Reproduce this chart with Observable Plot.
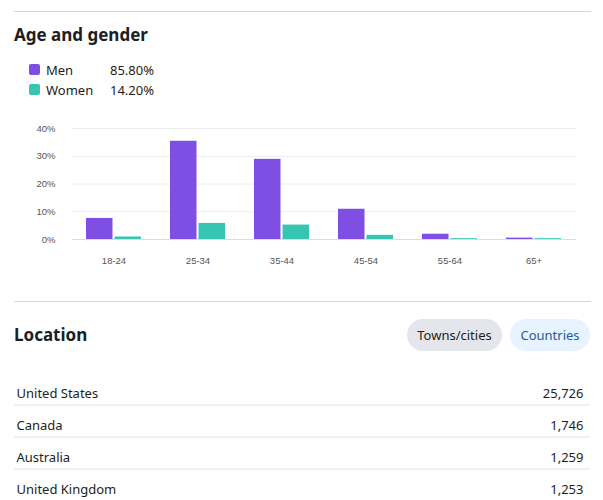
<!DOCTYPE html>
<html>
<head>
<meta charset="utf-8">
<script src="https://cdn.jsdelivr.net/npm/d3@7"></script>
<script src="https://cdn.jsdelivr.net/npm/@observablehq/plot@0.6"></script>
<style>
  html, body { margin: 0; padding: 0; background: #fff; }
  body { width: 603px; height: 500px; position: relative; overflow: hidden; font-family: "Noto Sans", sans-serif; color: #1c1e21; }
  .hr { position: absolute; left: 14px; width: 577px; height: 1px; background: #d6d6d6; }
  .h { position: absolute; left: 14px; font-weight: 700; font-size: 17px; line-height: 20px; }
  .leg { position: absolute; left: 29px; font-size: 13px; line-height: 16px; }
  .leg .sw { position: absolute; left: 0; top: 2px; width: 11px; height: 11px; border-radius: 2px; }
  .leg .lab { position: absolute; left: 17px; top: 0; white-space: nowrap; }
  .leg .val { position: absolute; left: 60px; width: 65px; text-align: right; top: 0; }
  .pill { position: absolute; top: 319px; height: 32px; border-radius: 16px; font-size: 13px; line-height: 32px; text-align: center; }
  #chart { position: absolute; left: 0; top: 110px; }
  #list { position: absolute; left: 0; top: 375px; }
</style>
</head>
<body>
<div class="hr" style="top:11px"></div>
<div class="h" style="top:25px">Age and gender</div>
<div id="legend"></div>
<div id="chart"></div>
<div class="hr" style="top:301px"></div>
<div class="h" style="top:325px">Location</div>
<div class="pill" style="left:407px;width:95px;background:#e4e6eb;color:#1c1e21">Towns/cities</div>
<div class="pill" style="left:510px;width:80px;background:#e7f3ff;color:#1f5a9c">Countries</div>
<div id="list"></div>
<script>
const ages = ["18-24", "25-34", "35-44", "45-54", "55-64", "65+"];
const menValues = [7.6, 35.4, 28.9, 10.9, 1.9, 0.5];
const womenValues = [0.9, 5.8, 5.2, 1.5, 0.3, 0.3];
const genders = ["Men", "Women"];
const genderShares = ["85.80%", "14.20%"];
const genderColors = ["#7f4fe3", "#36c5b1"];
const yTicks = [0, 10, 20, 30, 40];
const countries = ["United States", "Canada", "Australia", "United Kingdom"];
const countryValues = [25726, 1746, 1259, 1253];

// Legend
const legend = document.getElementById("legend");
genders.forEach((g, i) => {
  const row = document.createElement("div");
  row.className = "leg";
  row.style.top = (62 + i * 20) + "px";
  row.innerHTML = `<span class="sw" style="background:${genderColors[i]}"></span><span class="lab">${g}</span><span class="val">${genderShares[i]}</span>`;
  legend.appendChild(row);
});

const menData = ages.map((a, i) => ({age: a, value: menValues[i]}));
const womenData = ages.map((a, i) => ({age: a, value: womenValues[i]}));

const chart = Plot.plot({
  width: 603,
  height: 165,
  marginLeft: 72,
  marginRight: 27,
  marginTop: 18,
  marginBottom: 36,
  style: {fontFamily: "'Liberation Sans', Arial, sans-serif", fontSize: "9.5px", color: "#555", background: "transparent"},
  x: {domain: ages, paddingInner: 0.345, paddingOuter: 0.1725, tickSize: 0, tickPadding: 18, label: null},
  y: {domain: [0, 40], ticks: yTicks, tickSize: 0, tickPadding: 17, tickFormat: d => d + "%", label: null},
  marks: [
    Plot.ruleY(yTicks.filter(t => t > 0), {stroke: "#ececec"}),
    Plot.ruleY([0], {stroke: "#dcdcdc"}),
    Plot.barY(menData, {x: "age", y: "value", fill: genderColors[0], insetRight: 28.5}),
    Plot.barY(womenData, {x: "age", y: "value", fill: genderColors[1], insetLeft: 28.5})
  ]
});
document.getElementById("chart").appendChild(chart);

const listData = countries.map((c, i) => ({country: c, value: countryValues[i]}));
const list = Plot.plot({
  width: 603,
  height: 125,
  marginLeft: 14,
  marginRight: 13,
  marginTop: 0,
  marginBottom: 0,
  style: {fontFamily: "'Noto Sans', sans-serif", fontSize: "13px", color: "#1c1e21", background: "transparent"},
  x: {axis: null},
  y: {type: "point", domain: countries, range: [17, 17 + 3 * 32.5], padding: 0, axis: null},
  marks: [
    Plot.ruleY(listData, {y: "country", dy: 11.5, stroke: "#e3e3e3"}),
    Plot.text(listData, {y: "country", text: "country", frameAnchor: "left", textAnchor: "start", dx: 2, fill: "#1c1e21"}),
    Plot.text(listData, {y: "country", text: d => d3.format(",")(d.value), frameAnchor: "right", textAnchor: "end", dx: -7, fill: "#1c1e21"})
  ]
});
document.getElementById("list").appendChild(list);
</script>
</body>
</html>
